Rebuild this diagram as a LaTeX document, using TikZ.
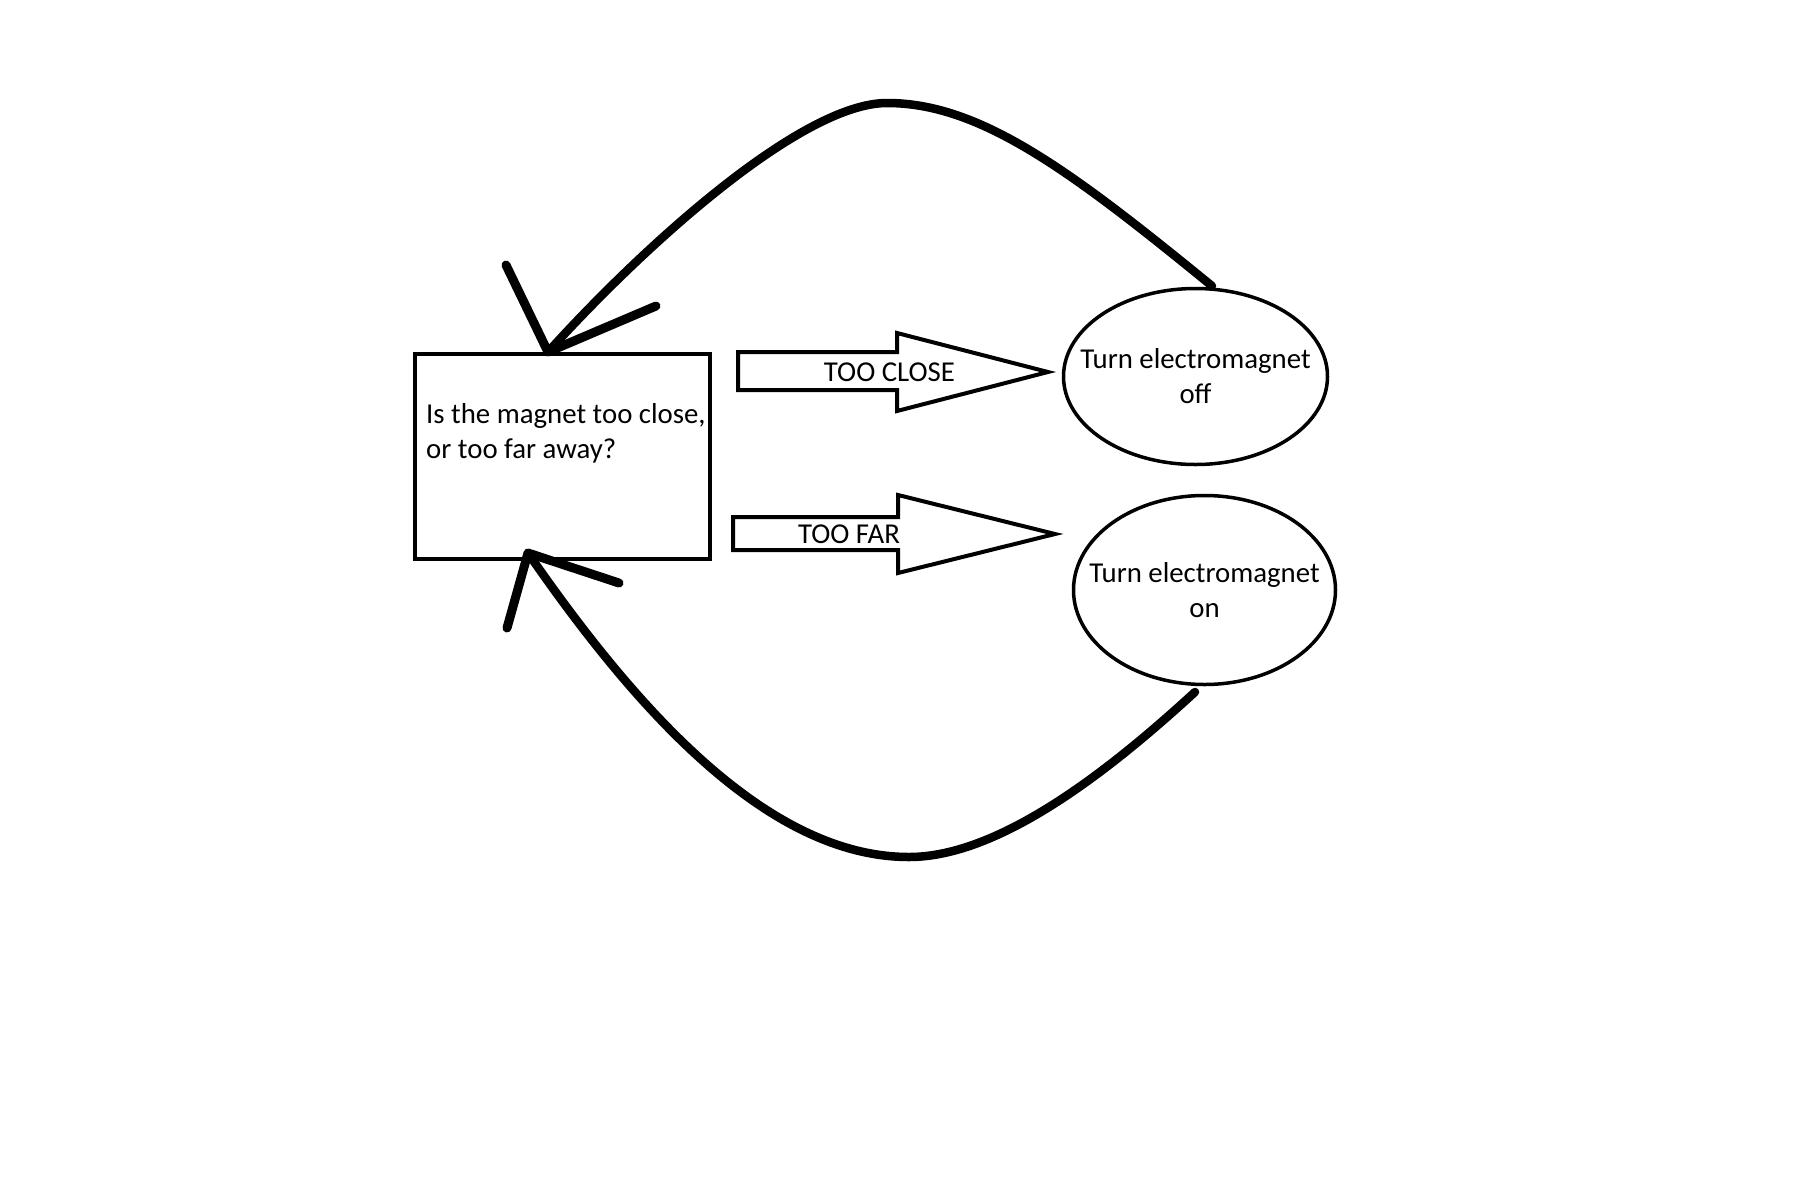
\documentclass[tikz,border=0pt]{standalone}
\usepackage{fontspec}
\setmainfont{Carlito}
\usetikzlibrary{shapes.geometric}
\begin{document}
\begin{tikzpicture}[x=1pt,y=-1pt,
  every node/.style={font=\fontsize{28.8}{35}\selectfont},
  box/.style={draw, line width=4pt, rectangle, minimum width=295pt, minimum height=205pt, inner sep=0pt},
  oval/.style={draw, line width=3.5pt, ellipse, inner sep=0pt},
  loopline/.style={line width=8.5pt, line cap=round, line join=round},
  tipline/.style={line width=9pt, line cap=round, line join=round},
  blockarrow/.style={draw, line width=4pt, line join=miter, fill=white},
  txt/.style={inner sep=0pt}
]
\useasboundingbox (0,0) rectangle (1800,1200);
\fill[white] (0,0) rectangle (1800,1200);

\node[box] (q) at (562,456) {};
\node[txt, anchor=base west, align=left] (qt) at (426,458) {Is the magnet too close,\\or too far away?};

\node[oval, minimum width=264pt, minimum height=176pt,
  label={[txt,align=center]center:Turn electromagnet\\off}] (off) at (1195.5,376.5) {};
\node[oval, minimum width=262pt, minimum height=189pt,
  label={[txt,align=center]center:Turn electromagnet\\on}] (on) at (1204.5,590) {};

\draw[blockarrow] (738,352) -- (897,352) -- (897,333) -- (1048,372) -- (897,411) -- (897,390) -- (738,390) -- cycle;
\node[txt, anchor=base] (tc) at (889.5,381) {TOO CLOSE};
\draw[blockarrow] (733,517) -- (898,517) -- (898,495) -- (1055,534) -- (898,573) -- (898,550) -- (733,550) -- cycle;
\node[txt, anchor=base] (tf) at (849,543) {TOO FAR};

\coordinate (offtop) at (1212,286);
\coordinate (qtop) at (548,352);
\coordinate (onbot) at (1195,692);
\coordinate (qbot) at (528,553);
\coordinate (ta) at (506,265);
\coordinate (tb) at (656,306);
\coordinate (ba) at (507,628);
\coordinate (bb) at (619,583);

\draw[loopline] (offtop) .. controls (1070,170) and (980,103) .. (887,103) .. controls (800,103) and (640,250) .. (qtop);
\draw[tipline] (ta) -- (qtop) -- (tb);
\draw[loopline] (onbot) .. controls (1110,770) and (1000,857) .. (909,857) .. controls (770,857) and (640,715) .. (qbot);
\draw[tipline] (ba) -- (qbot) -- (bb);
\end{tikzpicture}
\end{document}
